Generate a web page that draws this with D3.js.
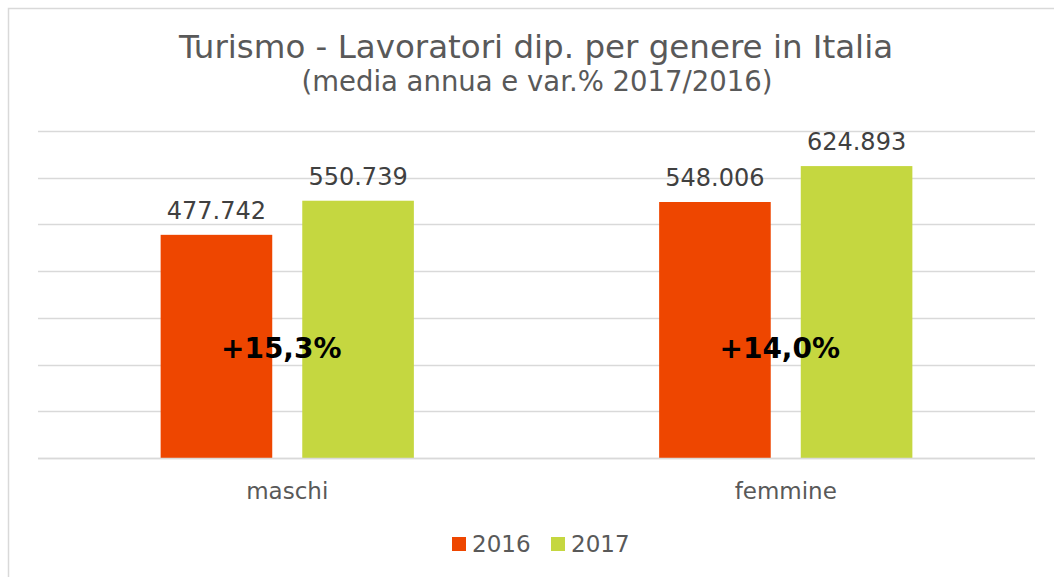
<!DOCTYPE html>
<html>
<head>
<meta charset="utf-8">
<script src="https://cdn.jsdelivr.net/npm/d3@7"></script>
<style>
  html, body { margin: 0; padding: 0; background: #fff; }
  svg { display: block; }
  text { font-family: "DejaVu Sans", Verdana, sans-serif; }
</style>
</head>
<body>
<svg id="chart" width="1054" height="577"></svg>
<script>
const categories = ["maschi", "femmine"];
const seriesNames = ["2016", "2017"];
const values2016 = [477742, 548006];
const values2017 = [550739, 624893];
const changeLabels = ["+15,3%", "+14,0%"];
const yTicks = [0, 100000, 200000, 300000, 400000, 500000, 600000, 700000];
const titleText = "Turismo - Lavoratori dip. per genere in Italia";
const subtitleText = "(media annua e var.% 2017/2016)";

const colors = { "2016": "#EE4600", "2017": "#C5D740" };

const svg = d3.select("#chart");
const W = 1054, H = 577;

// chart area border (left and top edges visible)
svg.append("rect").attr("x", 8.5).attr("y", 8.5).attr("width", W + 20).attr("height", H + 20)
  .attr("fill", "#fff").attr("stroke", "#d9d9d9").attr("stroke-width", 1.5);

const plotLeft = 38, plotRight = 1035, plotTop = 131, plotBottom = 458;

const y = d3.scaleLinear().domain([0, 700000]).range([plotBottom, plotTop]);
const x0 = d3.scaleBand().domain(categories).range([plotLeft, plotRight]).paddingInner(0.492).paddingOuter(0.246);
const x1 = d3.scaleBand().domain(seriesNames).range([0, x0.bandwidth()]).paddingInner(0.212).paddingOuter(0);

// gridlines
svg.append("g").selectAll("line").data(yTicks).join("line")
  .attr("x1", plotLeft).attr("x2", plotRight)
  .attr("y1", d => Math.round(y(d)) + 0.5).attr("y2", d => Math.round(y(d)) + 0.5)
  .attr("stroke", "#d9d9d9").attr("stroke-width", 1.5);

const rows = categories.map((c, i) => ({ cat: c, vals: [
  { s: "2016", v: values2016[i] }, { s: "2017", v: values2017[i] } ] }));

const groups = svg.append("g").selectAll("g").data(rows).join("g")
  .attr("transform", d => `translate(${x0(d.cat)},0)`);

groups.selectAll("rect").data(d => d.vals).join("rect")
  .attr("x", d => x1(d.s)).attr("width", x1.bandwidth())
  .attr("y", d => y(d.v)).attr("height", d => plotBottom - y(d.v))
  .attr("fill", d => colors[d.s]);

const fmt = v => d3.format(",")(v).replace(/,/g, ".");
groups.selectAll("text.val").data(d => d.vals).join("text").attr("class", "val")
  .attr("x", d => x1(d.s) + x1.bandwidth() / 2)
  .attr("y", d => y(d.v) - 16)
  .attr("text-anchor", "middle").attr("font-size", 24).attr("fill", "#404040")
  .text(d => fmt(d.v));

// baseline on top
svg.append("line").attr("x1", plotLeft).attr("x2", plotRight).attr("y1", plotBottom + 0.5).attr("y2", plotBottom + 0.5)
  .attr("stroke", "#d9d9d9").attr("stroke-width", 1.5);

// category labels
svg.append("g").selectAll("text").data(categories).join("text")
  .attr("x", d => x0(d) + x0.bandwidth() / 2).attr("y", 499)
  .attr("text-anchor", "middle").attr("font-size", 23).attr("fill", "#595959")
  .text(d => d);

// change labels
svg.append("g").selectAll("text").data(categories).join("text")
  .attr("x", d => x0(d) + x0.bandwidth() / 2 - 6).attr("y", 358)
  .attr("text-anchor", "middle").attr("font-size", 28).attr("font-weight", "bold").attr("fill", "#000")
  .text((d, i) => changeLabels[i]);

// title
svg.append("text").attr("x", 536).attr("y", 58).attr("text-anchor", "middle")
  .attr("font-size", 32.5).attr("fill", "#595959").text(titleText);
svg.append("text").attr("x", 537).attr("y", 91).attr("text-anchor", "middle")
  .attr("font-size", 27.5).attr("fill", "#595959").text(subtitleText);

// legend
const legendX = [452, 551];
const lg = svg.append("g").selectAll("g").data(seriesNames).join("g")
  .attr("transform", (d, i) => `translate(${legendX[i]},537)`);
lg.append("rect").attr("width", 14).attr("height", 14).attr("fill", d => colors[d]);
lg.append("text").attr("x", 20).attr("y", 14.5).attr("font-size", 23).attr("fill", "#595959").text(d => d);
</script>
</body>
</html>
